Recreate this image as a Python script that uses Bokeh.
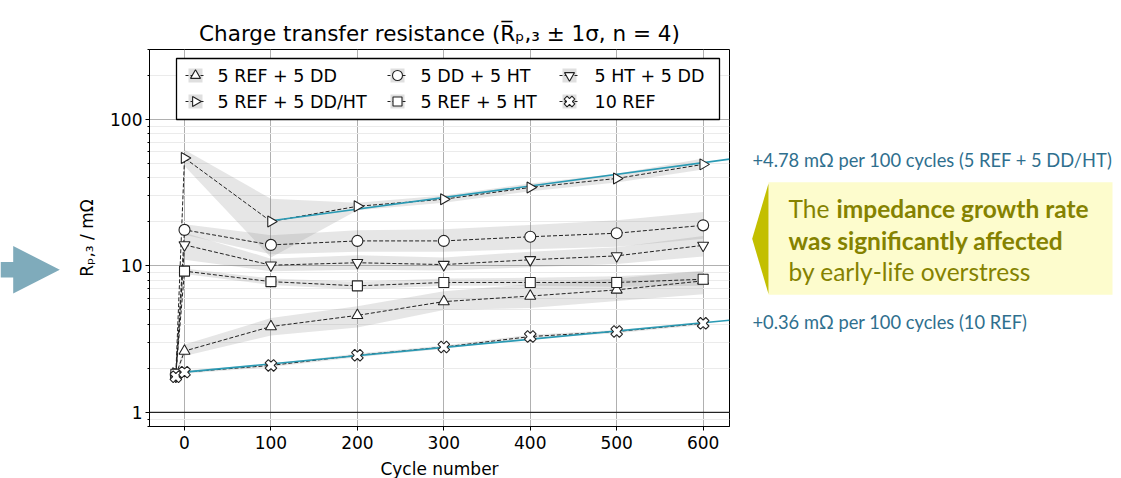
import math
from bokeh.plotting import figure
from bokeh.layouts import row
from bokeh.models import FixedTicker, BasicTickFormatter, Span, Range1d
from bokeh.core.properties import value
from bokeh.embed import file_html
from bokeh.resources import INLINE

# ---------------- data ----------------
cycles = [-10, 0, 100, 200, 300, 400, 500, 600]

ref_dd_mean = [1.80, 2.62, 3.85, 4.59, 5.70, 6.22, 6.85, 7.90]
ref_dd_lo   = [1.76, 2.42, 3.35, 3.80, 5.00, 5.15, 5.75, 6.40]
ref_dd_hi   = [1.84, 2.90, 4.40, 5.30, 6.70, 7.50, 8.20, 9.30]

ref_ddht_mean = [1.85, 54.5, 20.1, 25.5, 28.5, 34.3, 39.5, 49.3]
ref_ddht_lo   = [1.80, 48.0, 11.4, 24.0, 27.0, 32.3, 37.0, 45.5]
ref_ddht_hi   = [1.90, 62.0, 28.7, 27.0, 30.2, 36.5, 42.5, 54.0]

dd_ht_mean = [1.78, 17.6, 13.9, 14.8, 14.8, 15.8, 16.7, 18.9]
dd_ht_lo   = [1.74, 16.3, 12.0, 12.5, 12.5, 13.0, 13.5, 15.3]
dd_ht_hi   = [1.82, 19.2, 16.2, 17.5, 17.8, 19.0, 20.5, 23.3]

ref_ht_mean = [1.82, 9.2, 7.8, 7.3, 7.7, 7.7, 7.7, 8.1]
ref_ht_lo   = [1.78, 8.8, 7.4, 6.9, 7.3, 7.3, 7.2, 7.3]
ref_ht_hi   = [1.86, 9.6, 8.2, 7.8, 8.2, 8.3, 8.5, 9.1]

ht_dd_mean = [1.76, 13.9, 10.1, 10.5, 10.2, 11.0, 11.7, 13.8]
ht_dd_lo   = [1.72, 11.0, 9.2, 9.4, 9.3, 9.8, 10.3, 11.6]
ht_dd_hi   = [1.80, 16.8, 11.2, 11.8, 11.4, 12.5, 13.4, 16.0]

ref10_mean = [1.75, 1.88, 2.09, 2.45, 2.79, 3.29, 3.56, 4.05]
ref10_lo   = [1.70, 1.83, 2.04, 2.38, 2.72, 3.20, 3.47, 3.95]
ref10_hi   = [1.80, 1.93, 2.14, 2.52, 2.86, 3.38, 3.65, 4.15]

fit_ddht_x = [100, 630.5]
fit_ddht_y = [20.3, 53.5]
fit_ref10_x = [0, 630.5]
fit_ref10_y = [1.88, 4.25]

x_ticks = [0, 100, 200, 300, 400, 500, 600]
y_ticks = [1, 10, 100]
y_minor = [0.8, 0.9, 2, 3, 4, 5, 6, 7, 8, 9, 20, 30, 40, 50, 60, 70, 80, 90, 200, 300]

labels = ["5 REF + 5 DD", "5 REF + 5 DD/HT", "5 DD + 5 HT", "5 REF + 5 HT", "5 HT + 5 DD", "10 REF"]

note_ddht = "+4.78 m\u03a9 per 100 cycles (5 REF + 5 DD/HT)"
note_ref10 = "+0.36 m\u03a9 per 100 cycles (10 REF)"

# ---------------- page geometry (px) ----------------
W, H = 1121, 478
LEFT_W = 65
L, R, T, B = 149, 729, 49, 426
RIGHT_GAP = 3
X0, X1 = -40.5, 630.5
Y0, Y1 = 0.8, 300.0


def dx(px):
    return X0 + (px - L) / (R - L) * (X1 - X0)


def dy(py):
    return 10 ** (math.log10(Y0) + (B - py) / (B - T) * (math.log10(Y1) - math.log10(Y0)))


def blank(width, x_start):
    # strip whose frame lines up with the main frame; data units = page pixels
    f = figure(frame_width=width, frame_height=B - T, x_range=Range1d(x_start, x_start + width),
               y_range=Range1d(B, T), output_backend="svg", toolbar_location=None,
               x_axis_location=None, y_axis_location=None,
               min_border_left=0, min_border_right=0, min_border_top=T, min_border_bottom=H - B)
    f.outline_line_color = None
    f.grid.visible = False
    f.background_fill_color = "white"
    f.border_fill_color = "white"
    return f


# ---------------- main plot ----------------
p = figure(frame_width=R - L, frame_height=B - T,
           x_range=(X0, X1), y_range=(Y0, Y1), y_axis_type="log",
           output_backend="svg", toolbar_location=None,
           min_border_left=L - LEFT_W, min_border_right=RIGHT_GAP,
           min_border_top=T, min_border_bottom=H - B)
p.background_fill_color = "white"
p.border_fill_color = "white"
p.outline_line_color = "black"
p.outline_line_width = 1

p.title.text = "Charge transfer resistance (R\u0305\u209a,\u2083 \u00b1 1\u03c3, n = 4)"
p.title.align = "center"
p.title.text_font = "DejaVu Sans"
p.title.text_font_size = "21.5px"
p.title.text_font_style = "normal"
p.title.text_color = "black"
p.title.standoff = 7

p.xaxis.ticker = FixedTicker(ticks=x_ticks)
yt = FixedTicker(ticks=y_ticks, minor_ticks=y_minor)
p.yaxis.ticker = yt
p.yaxis.formatter = BasicTickFormatter()
for ax in (p.xaxis, p.yaxis):
    ax.major_label_text_font = "DejaVu Sans"
    ax.major_label_text_font_size = "17px"
    ax.major_label_text_color = "black"
    ax.axis_line_color = "black"
    ax.major_tick_line_color = "black"
    ax.major_tick_out = 4
    ax.major_tick_in = 0
    ax.axis_label_text_font = "DejaVu Sans"
    ax.axis_label_text_font_size = "17px"
    ax.axis_label_text_font_style = "normal"
    ax.axis_label_text_color = "black"
p.xaxis.major_label_standoff = 5
p.yaxis.major_label_standoff = 3
p.xaxis.minor_tick_out = 0
p.yaxis.minor_tick_out = 2
p.yaxis.minor_tick_in = 0
p.yaxis.minor_tick_line_color = "black"
p.xaxis.axis_label = "Cycle number"
p.xaxis.axis_label_standoff = 7
p.yaxis.axis_label = "R\u209a,\u2083 / m\u03a9"
p.yaxis.axis_label_standoff = 10

p.xgrid.ticker = FixedTicker(ticks=x_ticks)
p.xgrid.grid_line_color = "#b0b0b0"
p.ygrid.ticker = yt
p.ygrid.grid_line_color = "#b0b0b0"
p.ygrid.minor_grid_line_color = "#ebebeb"

p.add_layout(Span(location=1, dimension="width", line_color="black", line_width=1))

series = [
    (ref_dd_mean, ref_dd_lo, ref_dd_hi, "triangle", 0.0, 11),
    (ref_ddht_mean, ref_ddht_lo, ref_ddht_hi, "triangle", -math.pi / 2, 11),
    (dd_ht_mean, dd_ht_lo, dd_ht_hi, "circle", 0.0, 11),
    (ref_ht_mean, ref_ht_lo, ref_ht_hi, "square", 0.0, 10),
    (ht_dd_mean, ht_dd_lo, ht_dd_hi, "inverted_triangle", 0.0, 11),
    (ref10_mean, ref10_lo, ref10_hi, "plus", math.pi / 4, 12),
]

BAND = "#808080"
LINE = "#222222"
for m, lo, hi, mk, ang, sz in series:
    p.varea(x=cycles, y1=lo, y2=hi, fill_color=BAND, fill_alpha=0.2)
for m, lo, hi, mk, ang, sz in series:
    p.line(cycles, m, line_color=LINE, line_width=1, line_dash="4 2")

FIT = "#2a9ab4"
p.line(fit_ddht_x, fit_ddht_y, line_color=FIT, line_width=1.6)
p.line(fit_ref10_x, fit_ref10_y, line_color=FIT, line_width=1.6)

for m, lo, hi, mk, ang, sz in series:
    p.scatter(cycles, m, marker=mk, angle=ang, size=sz, fill_color="white",
              line_color=LINE, line_width=1.1)

# ---- legend (drawn inside the frame) ----
p.quad(left=[dx(176)], right=[dx(719)], top=[dy(58)], bottom=[dy(119)],
       fill_color="white", line_color="black", line_width=1.3)
leg_cx = [195, 397, 569]
leg_tx = [217, 420, 594]
leg_ry = [75, 101]
for k, (m, lo, hi, mk, ang, sz) in enumerate(series):
    cx, tx, ry = leg_cx[k // 2], leg_tx[k // 2], leg_ry[k % 2]
    p.quad(left=[dx(cx - 7)], right=[dx(cx + 7)], top=[dy(ry - 7)], bottom=[dy(ry + 7)],
           fill_color=BAND, fill_alpha=0.25, line_alpha=0)
    p.line([dx(cx - 10), dx(cx + 10)], [dy(ry), dy(ry)], line_color=LINE, line_width=1,
           line_dash="3 2")
    p.scatter([dx(cx)], [dy(ry)], marker=mk, angle=ang, size=sz - 1, fill_color="white",
              line_color=LINE, line_width=1.1)
    p.text([dx(tx)], [dy(ry)], text=[labels[k]], text_font=value("DejaVu Sans"),
           text_font_size="17.5px", text_baseline="middle", text_align="left",
           text_color="black")

# ---------------- left strip (arrow) ----------------
lf = blank(LEFT_W, 0)
arrow_x = [0, 12.7, 12.7, 59.3, 12.7, 12.7, 0]
arrow_y = [261.5, 261.5, 245.5, 269.3, 293, 277, 277]
lf.patch(arrow_x, arrow_y, fill_color="#7fabbb", line_alpha=0)

# ---------------- right strip (annotations) ----------------
rx0 = R + RIGHT_GAP
rf = blank(W - rx0, rx0)
NOTE = "#2f6f8e"
rf.text([752], [159], text=[note_ddht], text_font=value("Lato"), text_font_size="18.3px",
        text_baseline="middle", text_align="left", text_color=NOTE)
rf.text([752], [321], text=[note_ref10], text_font=value("Lato"), text_font_size="18.3px",
        text_baseline="middle", text_align="left", text_color=NOTE)
rf.quad(left=[768], right=[1112], top=[181.7], bottom=[294.3], fill_color="#fdfccd", line_alpha=0)
rf.patch([751.7, 768, 768], [238.3, 183, 293.5], fill_color="#c3bf00", line_alpha=0)
OLIVE = "#858200"
for txt, xx, yy, st in [("The", 788, 208, "normal"),
                        ("impedance growth rate", 836, 208, "bold"),
                        ("was significantly affected", 788, 240, "bold"),
                        ("by early-life overstress", 788, 271, "normal")]:
    rf.text([xx], [yy], text=[txt], text_font=value("Lato"), text_font_size="24.5px",
            text_font_style=st, text_baseline="middle", text_align="left", text_color=OLIVE)

layout = row(lf, p, rf)
open("out.html", "w").write(file_html(layout, INLINE))
